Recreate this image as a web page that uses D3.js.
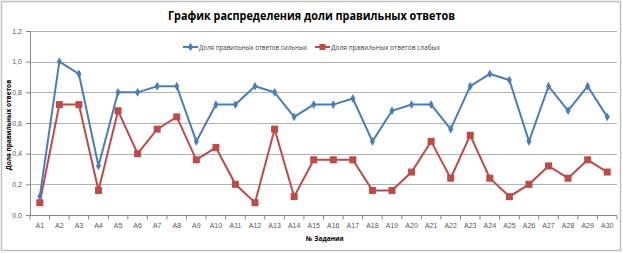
<!DOCTYPE html>
<html>
<head>
<meta charset="utf-8">
<script src="https://cdn.jsdelivr.net/npm/d3@7"></script>
<style>
  body { margin: 0; background: #fff; }
  svg { display: block; font-family: "Open Sans", "DejaVu Sans", sans-serif; }
  .grid line { stroke: #b3b3b3; stroke-width: 1; }
  .axis text { fill: #595959; font-size: 7px; }
  .axis path, .axis line { stroke: #868686; }
</style>
</head>
<body>
<div id="chart"></div>
<script>
var width = 623;
var height = 253;
var margin = { left: 30, top: 31, right: 6, bottom: 38 };

var tasks = ["A1","A2","A3","A4","A5","A6","A7","A8","A9","A10","A11","A12","A13","A14","A15",
             "A16","A17","A18","A19","A20","A21","A22","A23","A24","A25","A26","A27","A28","A29","A30"];
var strong = [0.12,1.0,0.92,0.32,0.80,0.80,0.84,0.84,0.48,0.72,0.72,0.84,0.80,0.64,0.72,
              0.72,0.76,0.48,0.68,0.72,0.72,0.56,0.84,0.92,0.88,0.48,0.84,0.68,0.84,0.64];
var weak = [0.08,0.72,0.72,0.16,0.68,0.40,0.56,0.64,0.36,0.44,0.20,0.08,0.56,0.12,0.36,
            0.36,0.36,0.16,0.16,0.28,0.48,0.24,0.52,0.24,0.12,0.20,0.32,0.24,0.36,0.28];
var yTicks = [0, 0.2, 0.4, 0.6, 0.8, 1.0, 1.2];
var seriesNames = ["Доля правильных ответов сильных", "Доля правильных ответов слабых"];
var colors = ["#4a7ebb", "#be4b48"];

var svg = d3.select("#chart").append("svg")
  .attr("width", width)
  .attr("height", height);

// outer frame
svg.append("rect")
  .attr("x", 1.5).attr("y", 1.5)
  .attr("width", width - 4).attr("height", height - 4)
  .attr("fill", "#fff")
  .attr("stroke", "#bfbfbf")
  .attr("stroke-width", 1.5);

var xScale = d3.scaleBand()
  .domain(tasks)
  .range([margin.left, width - margin.right]);
var yScale = d3.scaleLinear()
  .domain([0, 1.2])
  .range([height - margin.bottom, margin.top]);

// gridlines
svg.append("g")
  .attr("class", "grid")
  .selectAll("line")
  .data(yTicks.slice(1))
  .enter().append("line")
  .attr("x1", margin.left).attr("x2", width - margin.right)
  .attr("y1", function(d){ return Math.round(yScale(d)) + 0.5; })
  .attr("y2", function(d){ return Math.round(yScale(d)) + 0.5; });

var yAxis = d3.axisLeft(yScale)
  .tickValues(yTicks)
  .tickSize(4)
  .tickPadding(4)
  .tickFormat(function(d){ return d3.format(".1f")(d).replace(".", ","); });
svg.append("g")
  .attr("class", "axis")
  .attr("transform", "translate(" + margin.left + ",0)")
  .call(yAxis)
  .call(function(g){ g.select(".domain").attr("d", "M0.5," + yScale(1.2) + "V" + yScale(0)); });

var xAxis = d3.axisBottom(xScale)
  .tickSize(0)
  .tickPadding(8);
var xg = svg.append("g")
  .attr("class", "axis")
  .attr("transform", "translate(0," + (Math.round(yScale(0)) + 0.5) + ")")
  .call(xAxis);
xg.select(".domain").attr("d", "M" + margin.left + ",0H" + (width - margin.right));
// tick marks between categories
xg.selectAll(".sep")
  .data(tasks.concat(["end"]))
  .enter().append("line")
  .attr("class", "sep")
  .attr("x1", function(d, i){ return margin.left + i * xScale.bandwidth(); })
  .attr("x2", function(d, i){ return margin.left + i * xScale.bandwidth(); })
  .attr("y1", 0).attr("y2", 4);

var line = d3.line()
  .x(function(d, i){ return xScale(tasks[i]) + xScale.bandwidth() / 2; })
  .y(function(d){ return yScale(d); });

var diamond = d3.symbol().type(d3.symbolDiamond).size(22);

// weak series
svg.append("path")
  .datum(weak)
  .attr("fill", "none")
  .attr("stroke", colors[1])
  .attr("stroke-width", 2)
  .attr("d", line);
svg.selectAll(".mweak")
  .data(weak)
  .enter().append("rect")
  .attr("class", "mweak")
  .attr("x", function(d, i){ return xScale(tasks[i]) + xScale.bandwidth() / 2 - 3.5; })
  .attr("y", function(d){ return yScale(d) - 3.5; })
  .attr("width", 7).attr("height", 7)
  .attr("fill", colors[1]);

// strong series
svg.append("path")
  .datum(strong)
  .attr("fill", "none")
  .attr("stroke", colors[0])
  .attr("stroke-width", 2)
  .attr("d", line);
svg.selectAll(".mstrong")
  .data(strong)
  .enter().append("path")
  .attr("class", "mstrong")
  .attr("transform", function(d, i){
    return "translate(" + (xScale(tasks[i]) + xScale.bandwidth() / 2) + "," + yScale(d) + ")";
  })
  .attr("d", diamond)
  .attr("fill", colors[0]);

// title
svg.append("text")
  .attr("x", 168).attr("y", 20)
  .attr("font-size", 12.5)
  .attr("font-weight", "bold")
  .attr("fill", "#000")
  .attr("textLength", 287)
  .attr("lengthAdjust", "spacingAndGlyphs")
  .text("График распределения доли правильных ответов");

// legend
var legendX = [183, 315];
var legendLen = [108, 109];
seriesNames.forEach(function(name, i){
  var g = svg.append("g").attr("transform", "translate(" + legendX[i] + ",47)");
  g.append("line").attr("x1", 0).attr("x2", 15).attr("y1", 0).attr("y2", 0)
    .attr("stroke", colors[i]).attr("stroke-width", 2);
  if (i == 0) {
    g.append("path").attr("transform", "translate(7.5,0)").attr("d", diamond).attr("fill", colors[i]);
  } else {
    g.append("rect").attr("x", 4.5).attr("y", -3).attr("width", 6).attr("height", 6).attr("fill", colors[i]);
  }
  g.append("text").attr("x", 16).attr("y", 2.5)
    .attr("font-size", 6.5).attr("fill", "#404040")
    .attr("textLength", legendLen[i])
    .attr("lengthAdjust", "spacingAndGlyphs")
    .text(name);
});

// axis titles
svg.append("text")
  .attr("transform", "translate(11,125) rotate(-90)")
  .attr("text-anchor", "middle")
  .attr("font-size", 6.5)
  .attr("font-weight", "bold")
  .attr("fill", "#000")
  .text("Доля правильных ответов");
svg.append("text")
  .attr("x", 306).attr("y", 241)
  .attr("font-size", 6.5)
  .attr("font-weight", "bold")
  .attr("fill", "#000")
  .text("№ Задания");
</script>
</body>
</html>
